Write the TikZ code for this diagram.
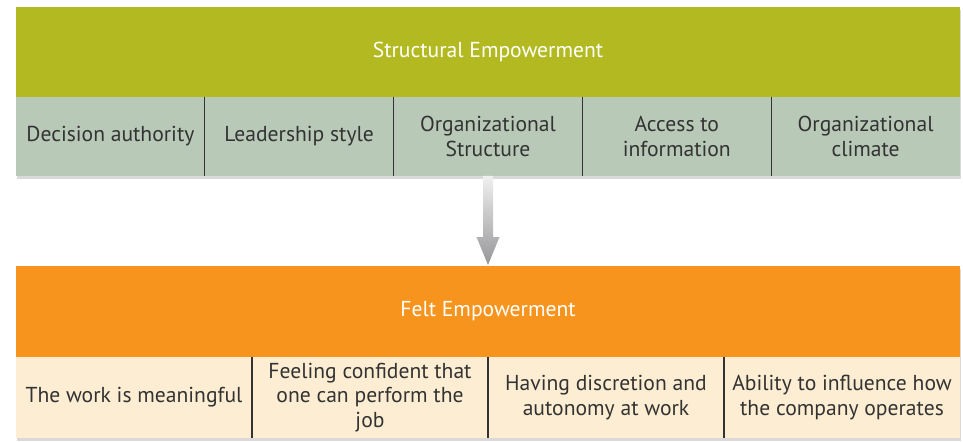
\documentclass[tikz,border=0pt]{standalone}
\usepackage{fontspec}
\setmainfont{PT Sans}
\usetikzlibrary{calc,shadows}

\definecolor{strgreen}{RGB}{179,186,33}
\definecolor{strgray}{RGB}{184,201,183}
\definecolor{feltorange}{RGB}{247,148,29}
\definecolor{feltcream}{RGB}{253,238,211}
\definecolor{txtgray}{RGB}{51,51,51}
\definecolor{arrowgray}{RGB}{150,150,152}

\tikzset{every picture/.style={line width=0.75pt}}
\tikzset{
  band/.style={anchor=north west, inner sep=0pt, outer sep=0pt, minimum width=708pt,
    text=white, font=\fontsize{16.2}{18.75}\selectfont,
    drop shadow={shadow xshift=1pt, shadow yshift=-2pt, opacity=0.3}},
  topcell/.style={anchor=north west, inner sep=0pt, outer sep=0pt, fill=strgray,
    minimum width=141.6pt, minimum height=59.25pt, align=center, text=txtgray,
    font=\fontsize{16.2}{18.75}\selectfont,
    drop shadow={shadow xshift=1pt, shadow yshift=-2pt, opacity=0.3}},
  botcell/.style={anchor=north west, inner sep=0pt, outer sep=0pt, fill=feltcream,
    minimum width=177pt, minimum height=60.75pt, align=center, text=txtgray,
    font=\fontsize{16.2}{18.4}\selectfont,
    drop shadow={shadow xshift=1pt, shadow yshift=-2pt, opacity=0.3}},
  divider/.style={draw=txtgray, line width=0.8pt}
}

\begin{document}
\begin{tikzpicture}[x=0.75pt,y=0.75pt,yscale=-1,xscale=1]
        \path[use as bounding box] (0,0) rectangle (963,442);
        %Shape: Rectangle [id:structural]
        \node (sbar) [band, fill=strgreen, minimum height=67.5pt] at (16,7) {Structural Empowerment};
        % Text Node
        \node (s1) [topcell] at (16,97) {Decision authority};
        \node (s2) [topcell] at (204.8,97) {Leadership style};
        \node (s3) [topcell] at (393.6,97) {Organizational\\Structure};
        \node (s4) [topcell] at (582.4,97) {Access to\\information};
        \node (s5) [topcell] at (771.2,97) {Organizational\\climate};
        %Straight Lines [id:topdividers]
        \draw [divider] (s1.north east) -- (s1.south east);
        \draw [divider] (s2.north east) -- (s2.south east);
        \draw [divider] (s3.north east) -- (s3.south east);
        \draw [divider] (s4.north east) -- (s4.south east);

        %Shape: Rectangle [id:felt]
        \node (fbar) [band, fill=feltorange, minimum height=68.25pt] at (16,266) {Felt Empowerment};
        % Text Node
        \node (f1) [botcell] at (16,357) {The work is meaningful};
        \node (f2) [botcell] at (252,357) {Feeling confident that\\one can perform the\\job};
        \node (f3) [botcell] at (488,357) {Having discretion and\\autonomy at work};
        \node (f4) [botcell] at (724,357) {Ability to influence how\\the company operates};
        %Straight Lines [id:botdividers]
        \draw [divider] (f1.north east) -- (f1.south east);
        \draw [divider] (f2.north east) -- (f2.south east);
        \draw [divider] (f3.north east) -- (f3.south east);

        %Shape: Arrow [id:structtofelt]
        \shade [top color=gray!12, bottom color=arrowgray]
          ($(s3.south)+(-5,0)$) -- ($(s3.south)+(5,0)$)
          -- ($(s3.south |- fbar.north)+(5,-29)$) -- ($(s3.south |- fbar.north)+(11.5,-29)$)
          -- ($(s3.south |- fbar.north)+(0,-1)$)
          -- ($(s3.south |- fbar.north)+(-11.5,-29)$) -- ($(s3.south |- fbar.north)+(-5,-29)$) -- cycle ;
\end{tikzpicture}
\end{document}
